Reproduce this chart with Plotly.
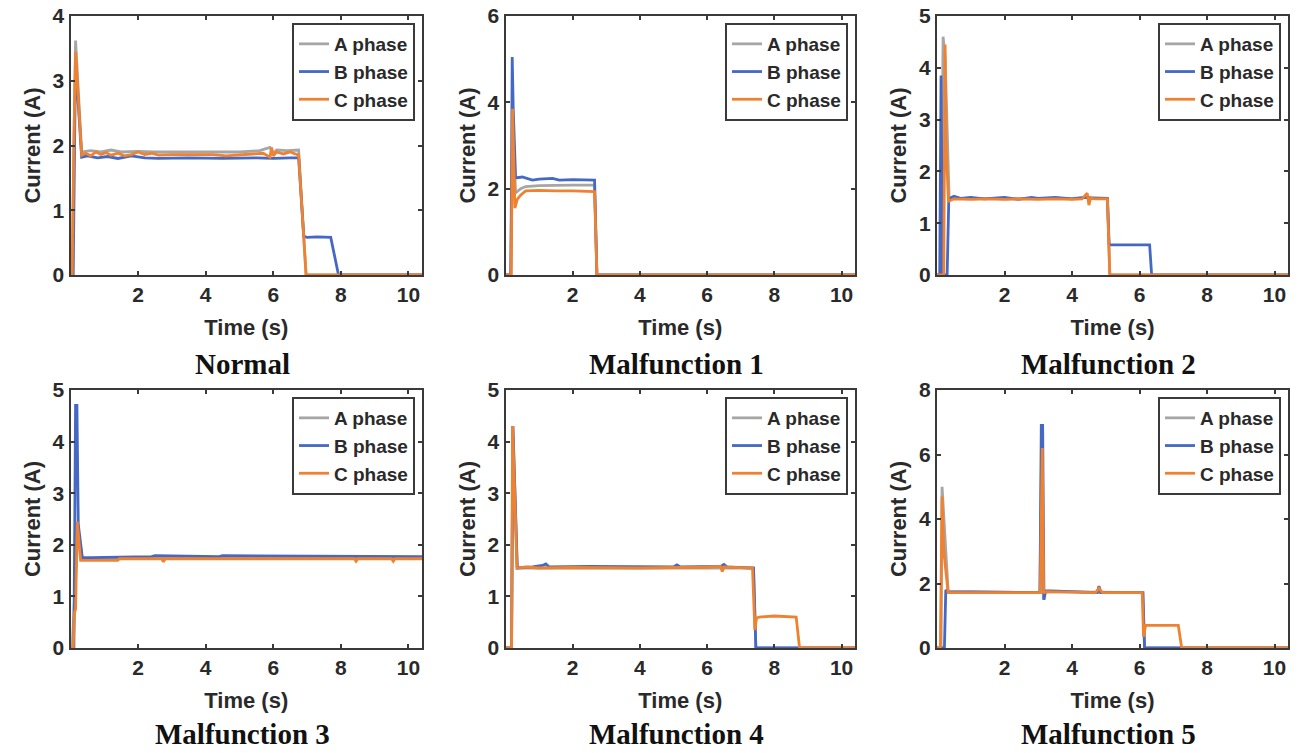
import plotly.graph_objects as go

W, H = 1298, 753

# ---------------- data ----------------
titles = ["Normal", "Malfunction 1", "Malfunction 2", "Malfunction 3", "Malfunction 4", "Malfunction 5"]
phase_names = ["A phase", "B phase", "C phase"]
y_max = [4, 6, 5, 5, 5, 8]
y_dtick = [1, 2, 1, 1, 1, 2]
x_ticks = [2, 4, 6, 8, 10]

# Normal
n_tA = [0, 0.05, 0.1, 0.15, 0.33, 0.6, 0.9, 1.2, 1.5, 2.0, 2.5, 3.0, 4.0, 5.0, 5.6, 5.9, 6.0, 6.1, 6.4, 6.75, 6.97, 10.4]
n_A = [0, 0, 2.0, 3.62, 1.9, 1.92, 1.9, 1.93, 1.9, 1.91, 1.9, 1.9, 1.9, 1.9, 1.92, 1.97, 1.88, 1.93, 1.92, 1.93, 0, 0]
n_tB = [0, 0.08, 0.12, 0.15, 0.33, 0.5, 0.8, 1.1, 1.4, 1.8, 2.2, 2.6, 3.5, 4.5, 5.5, 6.0, 6.5, 6.75, 6.9, 7.0, 7.3, 7.7, 7.93, 10.4]
n_B = [0, 0, 2.0, 3.3, 1.82, 1.84, 1.81, 1.83, 1.8, 1.84, 1.81, 1.8, 1.81, 1.8, 1.81, 1.8, 1.81, 1.81, 0.6, 0.58, 0.59, 0.58, 0, 0]
n_tC = [0, 0.05, 0.1, 0.15, 0.33, 0.45, 0.6, 0.75, 0.9, 1.05, 1.2, 1.4, 1.6, 1.8, 2.0, 2.2, 2.4, 2.6, 3.0, 3.6, 4.2, 4.6, 5.2, 5.7, 5.9, 5.95, 6.0, 6.1, 6.3, 6.5, 6.75, 6.97, 10.4]
n_C = [0, 0, 2.0, 3.45, 1.85, 1.88, 1.84, 1.9, 1.86, 1.89, 1.85, 1.88, 1.84, 1.86, 1.9, 1.86, 1.88, 1.85, 1.86, 1.86, 1.86, 1.84, 1.86, 1.88, 1.82, 1.97, 1.84, 1.9, 1.87, 1.9, 1.85, 0, 0]

# Malfunction 1
m1_tA = [0, 0.15, 0.22, 0.3, 0.45, 0.6, 1.0, 1.5, 2.0, 2.65, 2.72, 10.4]
m1_A = [0, 0, 3.5, 1.9, 2.0, 2.05, 2.07, 2.08, 2.08, 2.08, 0, 0]
m1_tB = [0, 0.16, 0.2, 0.23, 0.3, 0.5, 0.8, 1.0, 1.4, 1.6, 2.0, 2.65, 2.72, 10.4]
m1_B = [0, 0, 5.05, 3.85, 2.25, 2.27, 2.2, 2.22, 2.24, 2.2, 2.21, 2.2, 0, 0]
m1_tC = [0, 0.17, 0.21, 0.28, 0.35, 0.45, 0.6, 1.0, 1.5, 2.0, 2.65, 2.72, 10.4]
m1_C = [0, 0, 3.85, 1.55, 1.75, 1.85, 1.95, 1.96, 1.95, 1.95, 1.93, 0, 0]

# Malfunction 2
m2_tA = [0, 0.12, 0.18, 0.24, 0.36, 1.0, 2.0, 3.0, 4.0, 4.5, 5.05, 5.12, 10.4]
m2_A = [0, 0, 4.6, 4.2, 1.47, 1.48, 1.47, 1.47, 1.48, 1.5, 1.48, 0, 0]
m2_tB = [0, 0.08, 0.12, 0.16, 0.3, 0.35, 0.5, 0.7, 1.0, 1.4, 2.0, 2.4, 2.8, 3.0, 3.5, 4.0, 4.4, 4.6, 5.05, 5.1, 5.15, 6.3, 6.36, 10.4]
m2_B = [0, 0, 3.85, 0, 0, 1.47, 1.52, 1.48, 1.5, 1.47, 1.5, 1.46, 1.5, 1.48, 1.5, 1.47, 1.5, 1.48, 1.48, 0.6, 0.58, 0.58, 0, 0]
m2_tC = [0, 0.2, 0.24, 0.27, 0.34, 0.5, 1.0, 1.5, 2.0, 2.5, 3.0, 3.5, 4.0, 4.3, 4.45, 4.5, 4.55, 4.7, 5.05, 5.12, 10.4]
m2_C = [0, 0, 4.45, 2.5, 1.42, 1.47, 1.46, 1.47, 1.46, 1.47, 1.46, 1.47, 1.46, 1.47, 1.58, 1.35, 1.48, 1.47, 1.47, 0, 0]

# Malfunction 3
m3_tA = [0, 0.05, 0.1, 0.18, 0.22, 0.35, 1.4, 1.45, 10.4]
m3_A = [0, 0, 0.7, 2.0, 2.3, 1.72, 1.72, 1.75, 1.75]
m3_tB = [0, 0.1, 0.15, 0.19, 0.23, 0.35, 0.6, 1.4, 1.45, 2.4, 2.5, 4.4, 4.5, 10.4]
m3_B = [0, 0, 4.7, 4.7, 2.4, 1.75, 1.75, 1.75, 1.76, 1.77, 1.79, 1.77, 1.79, 1.77]
m3_tC = [0, 0.08, 0.12, 0.15, 0.2, 0.22, 0.3, 1.4, 1.45, 2.7, 2.75, 2.8, 8.4, 8.45, 8.5, 9.5, 9.55, 9.6, 10.4]
m3_C = [0, 0, 0.7, 0.75, 2.45, 2.3, 1.7, 1.7, 1.73, 1.73, 1.67, 1.73, 1.73, 1.68, 1.73, 1.73, 1.68, 1.73, 1.73]

# Malfunction 4
m4_tA = [0, 0.18, 0.22, 0.35, 7.38, 7.45, 10.4]
m4_A = [0, 0, 4.3, 1.55, 1.55, 0, 0]
m4_tB = [0, 0.18, 0.22, 0.35, 0.8, 1.1, 1.2, 1.3, 2.5, 5.0, 5.1, 5.2, 6.4, 6.5, 6.6, 7.38, 7.45, 10.4]
m4_B = [0, 0, 4.3, 1.55, 1.57, 1.6, 1.63, 1.57, 1.58, 1.57, 1.61, 1.57, 1.58, 1.62, 1.57, 1.55, 0, 0]
m4_tC = [0, 0.18, 0.21, 0.34, 0.6, 1.0, 2.0, 3.0, 4.0, 5.0, 6.0, 6.4, 6.45, 6.5, 7.0, 7.35, 7.42, 7.47, 7.55, 8.0, 8.65, 8.75, 10.4]
m4_C = [0, 0, 4.3, 1.55, 1.57, 1.55, 1.56, 1.55, 1.55, 1.56, 1.56, 1.58, 1.48, 1.57, 1.56, 1.55, 0.35, 0.58, 0.6, 0.62, 0.6, 0, 0]

# Malfunction 5
m5_tA = [0, 0.12, 0.15, 0.2, 0.33, 3.05, 3.1, 3.15, 3.2, 6.1, 6.15, 10.4]
m5_A = [0, 0, 5.0, 4.0, 1.75, 1.72, 6.2, 1.5, 1.75, 1.72, 0, 0]
m5_tB = [0, 0.22, 0.26, 0.33, 3.05, 3.09, 3.13, 3.17, 3.22, 4.75, 4.8, 4.85, 6.1, 6.15, 10.4]
m5_B = [0, 0, 1.8, 1.75, 1.72, 6.9, 6.9, 1.5, 1.78, 1.72, 1.92, 1.72, 1.72, 0, 0]
m5_tC = [0, 0.1, 0.15, 0.2, 0.33, 1.5, 2.5, 3.06, 3.12, 3.16, 3.22, 4.7, 4.8, 4.9, 6.08, 6.12, 6.18, 6.25, 7.15, 7.25, 10.4]
m5_C = [0, 0, 4.7, 3.0, 1.72, 1.72, 1.72, 1.72, 6.2, 1.7, 1.75, 1.72, 1.85, 1.72, 1.72, 0.35, 0.7, 0.7, 0.7, 0, 0]

panels = [
    [(n_tA, n_A), (n_tB, n_B), (n_tC, n_C)],
    [(m1_tA, m1_A), (m1_tB, m1_B), (m1_tC, m1_C)],
    [(m2_tA, m2_A), (m2_tB, m2_B), (m2_tC, m2_C)],
    [(m3_tA, m3_A), (m3_tB, m3_B), (m3_tC, m3_C)],
    [(m4_tA, m4_A), (m4_tB, m4_B), (m4_tC, m4_C)],
    [(m5_tA, m5_A), (m5_tB, m5_B), (m5_tC, m5_C)],
]

# ---------------- styling ----------------
colors = ["#a6a6a6", "#4468c4", "#ef8230"]
axis_col = "#3a3a3a"
txt_col = "#2a2a2a"
sans = "Liberation Sans, Arial, sans-serif"
serif = "Liberation Serif, Times New Roman, serif"

# panel pixel boxes: (left, right, top, bottom)
boxes = [
    (70.5, 422, 16, 275), (505.5, 855, 16, 275), (937, 1288, 16, 275),
    (70.5, 422, 390, 648), (505.5, 855, 390, 648), (937, 1288, 390, 648),
]
title_y = [364, 364, 364, 734, 734, 734]

fig = go.Figure()
layout = dict(
    width=W, height=H, margin=dict(l=0, r=0, t=0, b=0, autoexpand=False),
    paper_bgcolor="white", plot_bgcolor="white", showlegend=True,
    annotations=[],
)

for i, (series, box) in enumerate(zip(panels, boxes)):
    n = i + 1
    xa = "x" if n == 1 else f"x{n}"
    ya = "y" if n == 1 else f"y{n}"
    lg = "legend" if n == 1 else f"legend{n}"
    for j, (t, v) in enumerate(series):
        fig.add_trace(go.Scatter(
            x=t, y=v, mode="lines", name=phase_names[j],
            line=dict(color=colors[j], width=2.8),
            xaxis=xa, yaxis=ya, legend=lg,
        ))
    l, r, tp, bt = box
    xkey = "xaxis" if n == 1 else f"xaxis{n}"
    ykey = "yaxis" if n == 1 else f"yaxis{n}"
    common = dict(
        showline=True, linecolor=axis_col, linewidth=2, mirror="allticks",
        ticks="inside", ticklen=4, tickwidth=1.5, tickcolor=axis_col,
        showgrid=False, zeroline=False, automargin=False,
        tickfont=dict(family=sans, size=21, color=txt_col, weight="bold"),
    )
    layout[xkey] = dict(
        common, domain=[l / W, r / W], range=[0, 10.4], anchor=ya,
        tickmode="array", tickvals=x_ticks,
        title=dict(text="Time (s)", font=dict(family=sans, size=22, color=txt_col, weight="bold"), standoff=14),
    )
    layout[ykey] = dict(
        common, domain=[1 - bt / H, 1 - tp / H], range=[0, y_max[i]], anchor=xa,
        dtick=y_dtick[i], tick0=0,
        title=dict(text="Current (A)", font=dict(family=sans, size=22, color=txt_col, weight="bold"), standoff=6),
    )
    layout[lg] = dict(
        x=(r - 7) / W, y=1 - (tp + 7) / H, xanchor="right", yanchor="top",
        bgcolor="white", bordercolor=axis_col, borderwidth=2,
        font=dict(family=sans, size=19, color=txt_col, weight="bold"),
        itemwidth=30, tracegroupgap=0,
    )
    layout["annotations"].append(dict(
        text=titles[i], x=(l + r) / 2 / W - 0.003, y=1 - title_y[i] / H,
        xref="paper", yref="paper", xanchor="center", yanchor="middle",
        showarrow=False, font=dict(family=serif, size=29, color="#111", weight="bold"),
    ))

fig.update_layout(**layout)
fig.write_html("out.html")
